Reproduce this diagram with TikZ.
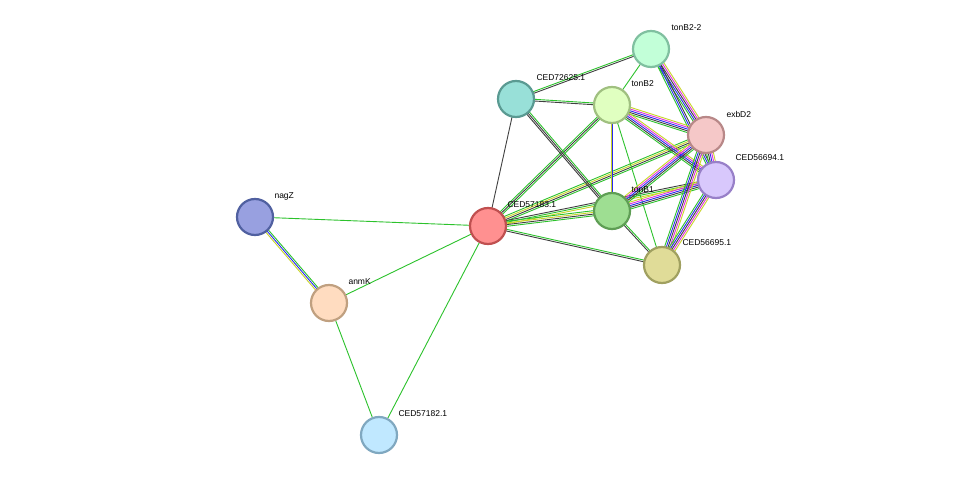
\documentclass[tikz,border=0pt]{standalone}
\usepackage{fontspec}
\setmainfont{Liberation Sans}
\usetikzlibrary{calc}
\definecolor{grn}{HTML}{2CC22C}
\definecolor{blk}{HTML}{404040}
\definecolor{blu}{HTML}{2A2AF0}
\definecolor{mag}{HTML}{E030E0}
\definecolor{yel}{HTML}{C8D428}
\definecolor{f1}{HTML}{C2FFD8}\definecolor{d1}{HTML}{80C0A0}
\definecolor{f2}{HTML}{98E0D8}\definecolor{d2}{HTML}{5A9A92}
\definecolor{f3}{HTML}{E0FFC0}\definecolor{d3}{HTML}{A0C080}
\definecolor{f4}{HTML}{F5C8C8}\definecolor{d4}{HTML}{B88888}
\definecolor{f5}{HTML}{D8C8FC}\definecolor{d5}{HTML}{9880C8}
\definecolor{f6}{HTML}{9EDE92}\definecolor{d6}{HTML}{5F9E55}
\definecolor{f7}{HTML}{FF9090}\definecolor{d7}{HTML}{C05050}
\definecolor{f8}{HTML}{E0DC98}\definecolor{d8}{HTML}{A0A060}
\definecolor{f9}{HTML}{98A0E0}\definecolor{d9}{HTML}{5060A0}
\definecolor{f10}{HTML}{FFDCC0}\definecolor{d10}{HTML}{C0A080}
\definecolor{f11}{HTML}{C0E8FF}\definecolor{d11}{HTML}{80A8C0}
\newcommand\edg[4]{\foreach \c [count=\i] in {#4}{\draw[line width=0.9pt,\c] ($(#1)!{(\i-(#3+1)/2)*1.7pt}!90:(#2)$) -- ($(#2)!{(\i-(#3+1)/2)*1.7pt}!-90:(#1)$);}}
\tikzset{prot/.style={circle,minimum size=36pt,inner sep=0pt,line width=2.2pt,fill=f#1,draw=d#1},
 lab/.style={font=\fontsize{8.5pt}{9pt}\selectfont,anchor=west}}
\begin{document}
\begin{tikzpicture}[x=1pt,y=-1pt]
\useasboundingbox[fill=white] (0,0) rectangle (975,481);
\coordinate (t22) at (651,49);
\coordinate (c726) at (516,99);
\coordinate (tb2) at (612,105);
\coordinate (exb) at (706,135);
\coordinate (c694) at (716,180);
\coordinate (tb1) at (612,211);
\coordinate (c183) at (488,226);
\coordinate (c695) at (662,265);
\coordinate (nag) at (255,217);
\coordinate (anm) at (329,303);
\coordinate (c182) at (379,435);
% edges
\edg{nag}{anm}{3}{yel,blu,grn}
\edg{nag}{c183}{1}{grn}
\edg{anm}{c183}{1}{grn}
\edg{anm}{c182}{1}{grn}
\edg{c182}{c183}{1}{grn}
\edg{c183}{c726}{1}{blk}
\edg{c183}{tb2}{3}{grn,blk,grn}
\edg{c183}{exb}{4}{grn,blk,yel,grn}
\edg{c183}{c694}{3}{yel,grn,blk}
\edg{c183}{tb1}{4}{grn,blk,yel,grn}
\edg{c183}{c695}{2}{blk,grn}
\edg{c726}{t22}{2}{blk,grn}
\edg{c726}{tb2}{2}{blk,grn}
\edg{c726}{tb1}{3}{blk,blk,grn}
\edg{t22}{tb2}{1}{grn}
\edg{t22}{exb}{5}{grn,blu,blk,mag,yel}
\edg{t22}{c694}{3}{grn,blu,blk}
\edg{tb2}{tb1}{2}{yel,blu}
\edg{tb2}{exb}{5}{grn,blk,blu,mag,yel}
\edg{tb2}{c694}{5}{grn,blk,blu,mag,yel}
\edg{tb2}{c695}{1}{grn}
\edg{tb1}{exb}{5}{grn,blk,blu,mag,yel}
\edg{tb1}{c694}{5}{grn,blk,blu,mag,yel}
\edg{tb1}{c695}{2}{blk,grn}
\edg{exb}{c694}{5}{grn,blk,blu,mag,yel}
\edg{exb}{c695}{5}{grn,blu,blk,mag,yel}
\edg{c694}{c695}{5}{grn,blu,blk,mag,yel}
% nodes
\node[prot=1] (T22) at (t22) {};
\node[prot=2] (C726) at (c726) {};
\node[prot=3] (TB2) at (tb2) {};
\node[prot=4] (EXB) at (exb) {};
\node[prot=5] (C694) at (c694) {};
\node[prot=6] (TB1) at (tb1) {};
\node[prot=7] (C183) at (c183) {};
\node[prot=8] (C695) at (c695) {};
\node[prot=9] (NAG) at (nag) {};
\node[prot=10] (ANM) at (anm) {};
\node[prot=11] (C182) at (c182) {};
% labels
\node[lab] (L1) at ($(t22)+(17,-21)$) {tonB2-2};
\node[lab] (L2) at ($(c726)+(17,-21)$) {CED72625.1};
\node[lab] (L3) at ($(tb2)+(16,-21)$) {tonB2};
\node[lab] (L4) at ($(exb)+(17,-21)$) {exbD2};
\node[lab] (L5) at ($(c694)+(16,-22)$) {CED56694.1};
\node[lab] (L6) at ($(tb1)+(16,-21)$) {tonB1};
\node[lab] (L7) at ($(c183)+(16,-21)$) {CED57183.1};
\node[lab] (L8) at ($(c695)+(17,-22)$) {CED56695.1};
\node[lab] (L9) at ($(nag)+(16,-21)$) {nagZ};
\node[lab] (L10) at ($(anm)+(16,-21)$) {anmK};
\node[lab] (L11) at ($(c182)+(16,-21)$) {CED57182.1};
\end{tikzpicture}
\end{document}
